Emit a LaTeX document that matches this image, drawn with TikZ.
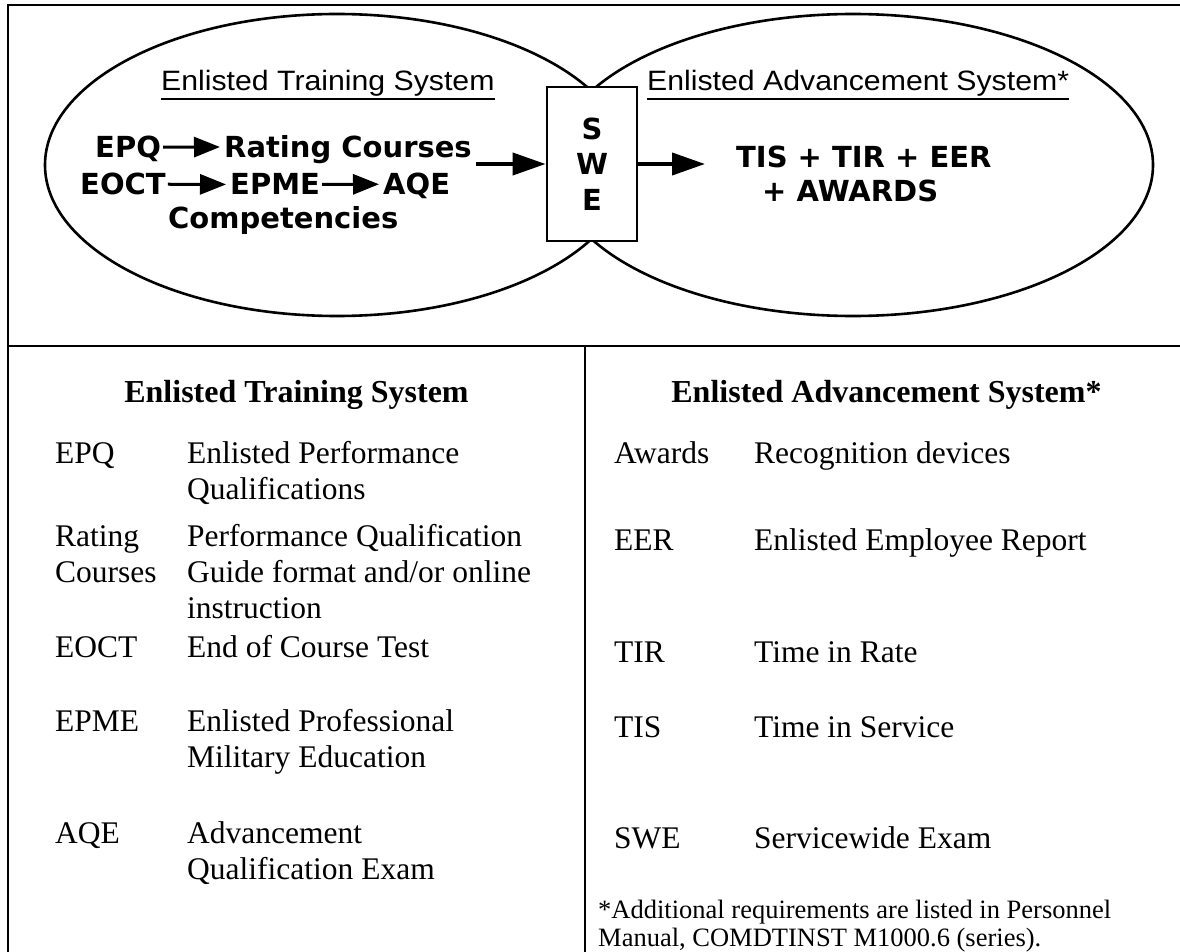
\documentclass[tikz,border=0pt]{standalone}
\usepackage{fontspec}
\setmainfont{Liberation Serif}
\newfontfamily\hvyfam{DejaVu Sans}
\newfontfamily\hdrfam[FakeStretch=1.08]{Liberation Sans}
\usetikzlibrary{arrows.meta,calc}
\newcommand\ulx[1]{\setbox0=\hbox{#1}\rlap{\vrule height -7pt depth 9pt width \wd0}\box0}
\begin{document}
\begin{tikzpicture}[x=1pt,y=-1pt,
  frameline/.style={line width=2.8pt},
  ovalline/.style={line width=2.6pt},
  heavy/.style={font=\hvyfam\bfseries\fontsize{29}{35.5}\selectfont, inner sep=0pt, text depth=0pt, anchor=base west},
  hdr/.style={font=\hdrfam\fontsize{28}{30}\selectfont, inner sep=0pt, anchor=base west},
  body/.style={font=\fontsize{31.5}{36}\selectfont, inner sep=0pt, anchor=base west},
  bhead/.style={font=\fontsize{32}{36}\selectfont\bfseries, inner sep=0pt, anchor=base},
  foot/.style={font=\fontsize{26.5}{30}\selectfont, inner sep=0pt, anchor=base west},
  smallarrow/.style={line width=3pt, -{Triangle[length=26pt,width=20pt]}, shorten <=2pt, shorten >=4pt},
  bigarrow/.style={line width=4pt, -{Triangle[length=33pt,width=22pt]}},
  swebox/.style={draw, line width=2.8pt, fill=white, minimum width=90pt, minimum height=154pt, inner sep=0pt, align=center, font=\hvyfam\bfseries\fontsize{29}{35.5}\selectfont}
]
\useasboundingbox (0,0) rectangle (1180,952);
% frame
\draw[frameline] (8,953) -- (8,5) -- (1181,5);
\draw[frameline] (8,346) -- (1181,346);
\draw[frameline] (585,346) -- (585,953);
% ellipses
\draw[ovalline] (337,165) ellipse [x radius=292pt, y radius=151pt];
\draw[ovalline] (853,165) ellipse [x radius=300pt, y radius=151pt];
% SWE box
\node[swebox] (swe) at (592,164) {S\\W\\E};
% headers
\node[hdr] (lhdr) at (161,91) {\ulx{Enlisted Training System}};
\node[hdr] (rhdr) at (647,91) {\ulx{Enlisted Advancement System*}};
% heavy texts
\node[heavy] (epq) at (95,158) {EPQ};
\node[heavy] (rc) at (224,158) {Rating Courses};
\node[heavy] (eoct) at (80,195) {EOCT};
\node[heavy] (epme) at (230,195) {EPME};
\node[heavy] (aqe) at (383,195) {AQE};
\node[heavy] (comp) at (168,229) {Competencies};
\node[heavy] (tis) at (736,168) {TIS + TIR + EER};
\node[heavy] (awd) at (762,201) {+ AWARDS};
% arrows
\draw[smallarrow] (epq.east) -- (rc.west);
\draw[smallarrow] (eoct.east) -- (epme.west);
\draw[smallarrow] (epme.east) -- (aqe.west);
\draw[bigarrow, shorten <=4pt] (rc.east |- swe.west) -- (swe.west);
\draw[bigarrow, shorten >=31pt] (swe.east) -- (swe.east -| tis.west);
% lower headings
\node[bhead] (lh) at (296.5,402) {Enlisted Training System};
\node[bhead] (rh) at (886.5,402) {Enlisted Advancement System*};
% left list
\node[body] (a1) at (55,463) {EPQ};
\node[body] (d1a) at (187,463) {Enlisted Performance};
\node[body] (d1b) at (187,499) {Qualifications};
\node[body] (a2a) at (55,546) {Rating};
\node[body] (a2b) at (55,582) {Courses};
\node[body] (d2a) at (187,546) {Performance Qualification};
\node[body] (d2b) at (187,582) {Guide format and/or online};
\node[body] (d2c) at (187,618) {instruction};
\node[body] (a3) at (55,657) {EOCT};
\node[body] (d3) at (187,657) {End of Course Test};
\node[body] (a4) at (55,731) {EPME};
\node[body] (d4a) at (187,731) {Enlisted Professional};
\node[body] (d4b) at (187,767) {Military Education};
\node[body] (a5) at (55,843) {AQE};
\node[body] (d5a) at (187,843) {Advancement};
\node[body] (d5b) at (187,879) {Qualification Exam};
% right list
\node[body] (b1) at (614,463) {Awards};
\node[body] (e1) at (754,463) {Recognition devices};
\node[body] (b2) at (614,550) {EER};
\node[body] (e2) at (754,550) {Enlisted Employee Report};
\node[body] (b3) at (614,662) {TIR};
\node[body] (e3) at (754,662) {Time in Rate};
\node[body] (b4) at (614,737) {TIS};
\node[body] (e4) at (754,737) {Time in Service};
\node[body] (b5) at (614,848) {SWE};
\node[body] (e5) at (754,848) {Servicewide Exam};
\node[foot] (f1) at (598,918) {*Additional requirements are listed in Personnel};
\node[foot] (f2) at (598,946) {Manual, COMDTINST M1000.6 (series).};
\end{tikzpicture}
\end{document}
